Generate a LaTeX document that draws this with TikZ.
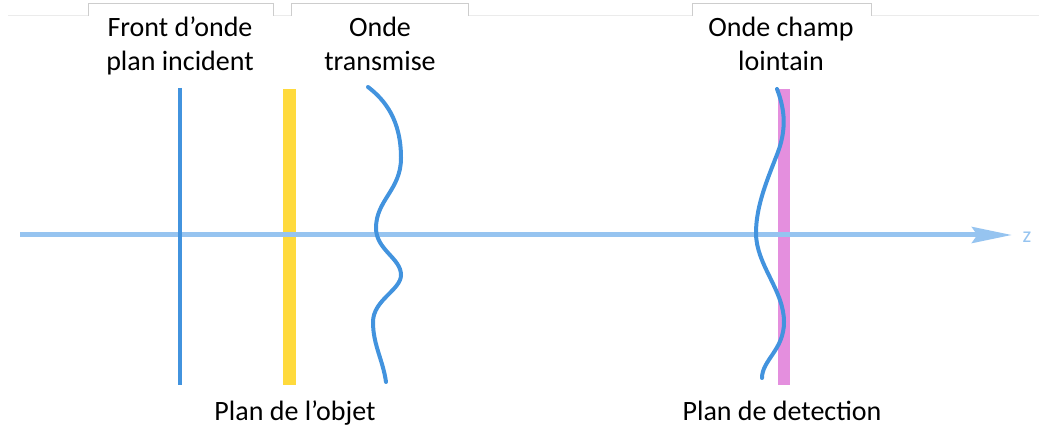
\documentclass[tikz,border=0pt]{standalone}
\usepackage{fontspec}
\setmainfont{Carlito}
\usetikzlibrary{arrows.meta, positioning}
\definecolor{axisblue}{RGB}{150,196,240}
\definecolor{waveblue}{RGB}{66,147,222}
\definecolor{objyellow}{RGB}{255,218,60}
\definecolor{detpink}{RGB}{228,143,222}
\definecolor{tabgrey}{RGB}{205,205,205}
\definecolor{tabline}{RGB}{235,235,235}

\begin{document}
\begin{tikzpicture}[x=0.75pt, y=-0.75pt,
  lbl/.style = {align=center, inner sep=0pt, font=\fontsize{21}{25.5}\selectfont},
  ray/.style = {waveblue, line width=3pt, line cap=round},
  tab/.style = {tabgrey, line width=0.75pt}]
\useasboundingbox (0,0) rectangle (1039,434);

% tabs at the top
\draw[tabline, line width=0.75pt] (8,16) -- (88,16) (273,16) -- (291,16)
  (468,16) -- (692,16) (871,16) -- (1039,16);
\draw[tab] (88,16) -- (88,3.5) -- (273,3.5) -- (273,16);
\draw[tab] (291,16) -- (291,3.5) -- (468,3.5) -- (468,16);
\draw[tab] (692,16) -- (692,3.5) -- (871,3.5) -- (871,16);

% planes
\fill[objyellow] (283,89) rectangle (296,385);
\fill[detpink] (778,89) rectangle (790,385);

% axis
\coordinate (o) at (20,235);
\coordinate (zend) at (1012,235);
\draw[axisblue, line width=3.75pt, -{Stealth[length=30pt, width=12pt, inset=4pt]}] (o) -- (zend);
\node[inner sep=0pt, anchor=base, text=axisblue, font=\fontsize{16.5}{18}\selectfont] (z) at (1027,243) {z};

% waves
\draw[ray, line cap=butt] (180,88) -- (180,385);
\draw[ray] (368,87) .. controls (385,100) and (401,120) .. (401,158)
  .. controls (401,190) and (376,200) .. (376,228)
  .. controls (376,250) and (401,258) .. (401,275)
  .. controls (401,290) and (373,300) .. (373,322)
  .. controls (373,345) and (383,360) .. (386,382);
\draw[ray] (777,89) .. controls (783,105) and (788,125) .. (778,152)
  .. controls (768,178) and (756,205) .. (756,233)
  .. controls (756,265) and (784,290) .. (784,322)
  .. controls (784,350) and (762,360) .. (762,378);

% labels
\node[lbl, anchor=base] (front) at (180,71) {Front d’onde\\plan incident};
\node[lbl, anchor=base] (transmise) at (380,71) {Onde\\transmise};
\node[lbl, anchor=base] (lointain) at (781,71) {Onde champ\\lointain};
\node[lbl, anchor=base] (objet) at (295,421) {Plan de l’objet};
\node[lbl, anchor=base] (detection) at (782,421) {Plan de detection};
\end{tikzpicture}
\end{document}
